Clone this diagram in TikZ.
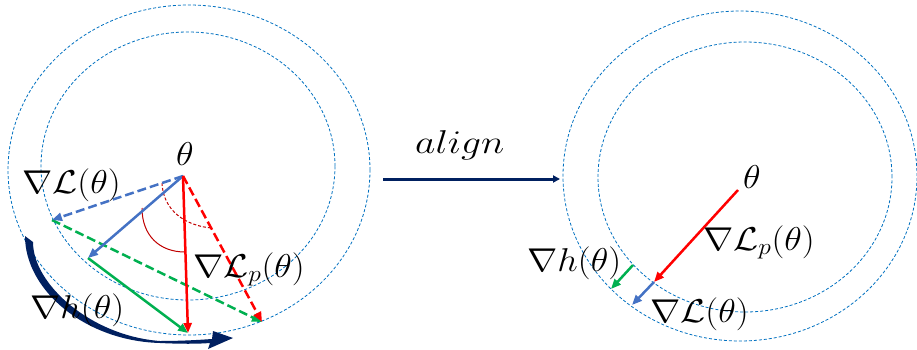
\RequirePackage{fix-cm}
\documentclass[tikz,border=0pt]{standalone}
\usetikzlibrary{arrows.meta}
\definecolor{ellc}{RGB}{0,112,192}
\definecolor{vred}{RGB}{255,0,0}
\definecolor{vblue}{RGB}{68,114,196}
\definecolor{vgreen}{RGB}{0,176,80}
\definecolor{darc}{RGB}{192,0,0}
\definecolor{navy}{RGB}{0,32,96}
\newcommand{\mylbl}[1]{\scalebox{1.1}[1]{$#1$}}
\tikzset{
  ell/.style={draw=ellc, line width=0.8pt, dash pattern=on 3pt off 2pt},
  vec/.style={line width=2.5pt, -{Triangle[length=10pt,width=8pt]}},
  dvec/.style={vec, dash pattern=on 9pt off 4pt},
  anglearc/.style={draw=darc, line width=1pt},
  lbl/.style={inner sep=0pt, anchor=base west, font=\fontsize{33}{38}\selectfont}
}
\begin{document}
\begin{tikzpicture}[x=1pt,y=-1pt]
\useasboundingbox (0,0) rectangle (917,350);
% ellipses
\draw[ell] (189,170) ellipse [x radius=181pt, y radius=165pt];
\draw[ell] (188,166) ellipse [x radius=147pt, y radius=134pt];
\draw[ell] (740,176) ellipse [x radius=177pt, y radius=165pt];
\draw[ell] (745,177) ellipse [x radius=147pt, y radius=135pt];
% left points
\coordinate (T) at (183,176);
\coordinate (A) at (52,220);
\coordinate (B) at (262,322);
\coordinate (C) at (88,258);
\coordinate (D) at (188,333);
% angle arcs
\draw[anglearc, dash pattern=on 3pt off 2pt] (162,183) .. controls (163,210) and (185,226) .. (212,228);
\draw[anglearc] (142,208) .. controls (142,236) and (160,252) .. (185,252);
% vectors left
\draw[dvec, vgreen] (A) -- (B);
\draw[dvec, vblue] (T) -- (A);
\draw[dvec, vred] (T) -- (B);
\draw[vec, vgreen] (C) -- (D);
\draw[vec, vblue] (T) -- (C);
\draw[vec, vred] (T) -- (D);
% curved navy arrow
\fill[navy] (25,236) .. controls (25,290) and (85,341) .. (160,343)
  .. controls (180,344) and (198,344) .. (210,343)
  -- (208,349) -- (233,338) -- (213,331) -- (212,339)
  .. controls (198,340) and (180,341) .. (160,341)
  .. controls (92,336) and (33,285) .. (33,242) -- cycle;
% align arrow
\coordinate (L1) at (383,179);
\coordinate (L2) at (560,179);
\draw[navy, line width=3pt, -{Triangle[length=7pt,width=7pt]}] (L1) -- (L2);
\node[lbl] (al) at (415,153) {\scalebox{1.2}[1]{$align$}};
% right vectors
\coordinate (RT) at (738,190);
\coordinate (RP) at (654,282);
\coordinate (RL) at (632,305);
\coordinate (RH1) at (633,265);
\coordinate (RH2) at (611,289);
\draw[vec, vred] (RT) -- (RP);
\draw[vec, vblue] (RP) -- (RL);
\draw[vec, vgreen] (RH1) -- (RH2);
% labels left
\node[lbl] (th1) at (176,165) {\mylbl{\theta}};
\node[lbl] (gl1) at (22,193) {\mylbl{\nabla\mathcal{L}(\theta)}};
\node[lbl] (gp1) at (193,277) {\mylbl{\nabla\mathcal{L}_p(\theta)}};
\node[lbl] (gh1) at (30,318) {\mylbl{\nabla h(\theta)}};
% labels right
\node[lbl] (th2) at (743,188) {\mylbl{\theta}};
\node[lbl] (gp2) at (703,250) {\mylbl{\nabla\mathcal{L}_p(\theta)}};
\node[lbl] (gh2) at (527,271) {\mylbl{\nabla h(\theta)}};
\node[lbl] (gl2) at (650,322) {\mylbl{\nabla\mathcal{L}(\theta)}};
\end{tikzpicture}
\end{document}
